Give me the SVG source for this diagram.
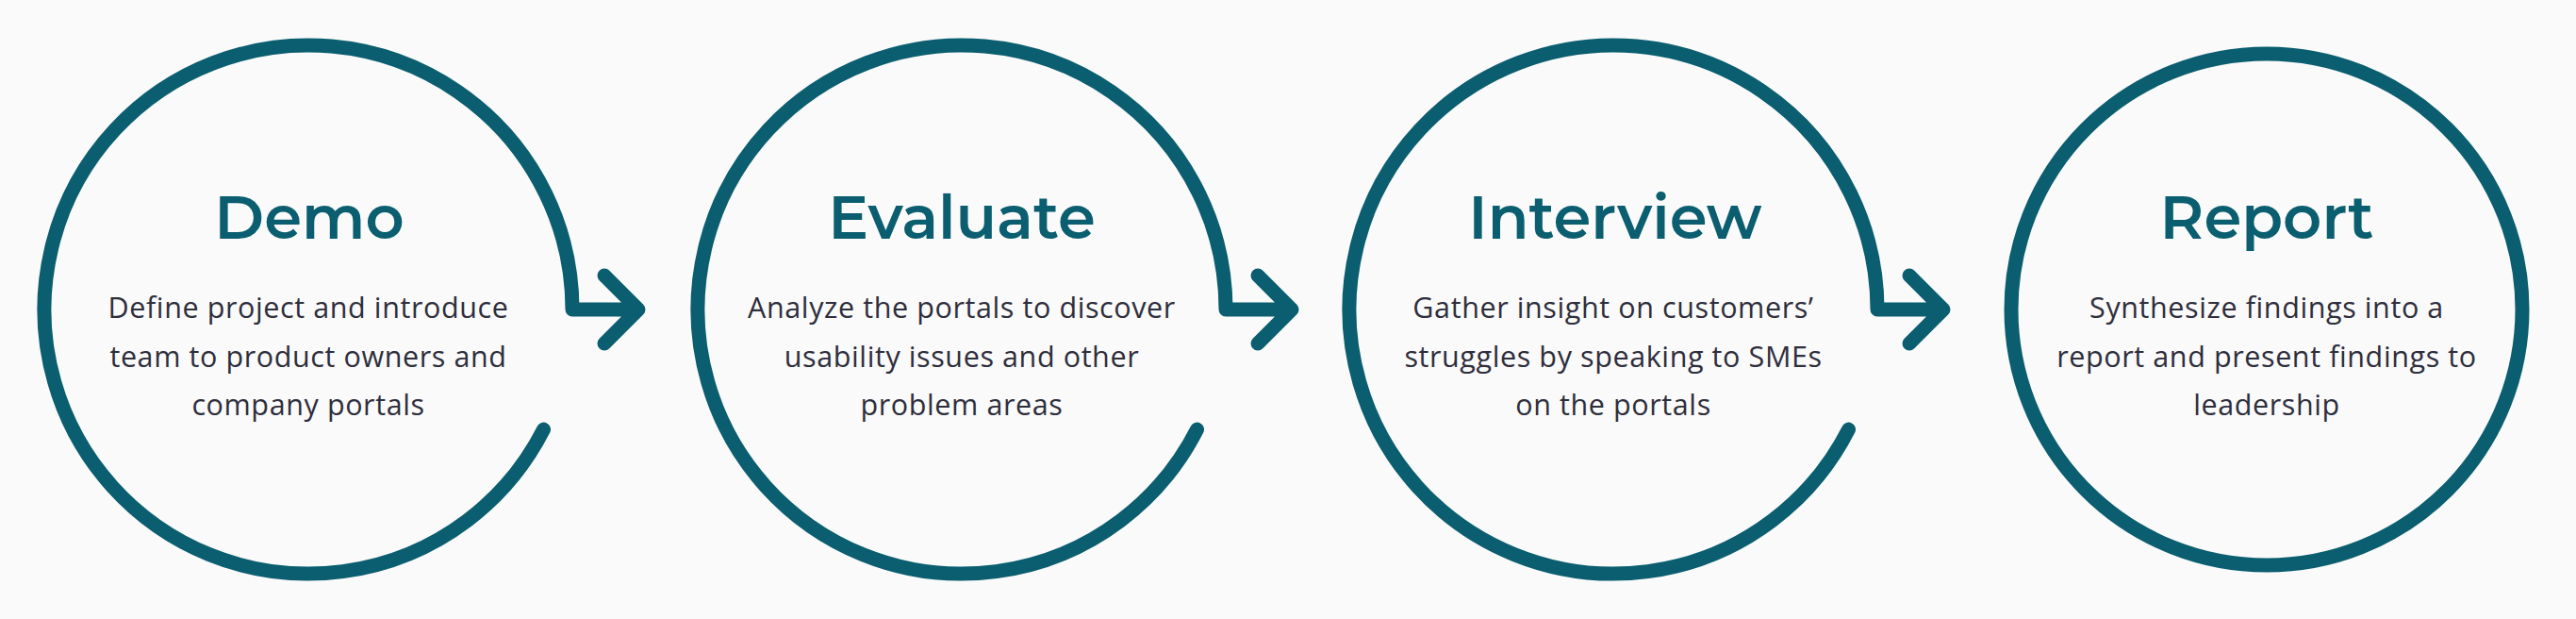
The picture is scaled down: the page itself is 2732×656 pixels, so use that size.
<svg xmlns="http://www.w3.org/2000/svg" width="2732" height="656" viewBox="0 0 2732 656">
<style>
.ring{fill:none;stroke:#0A5E6F;stroke-width:15;stroke-linecap:round;stroke-linejoin:round}
.title{font-family:"Montserrat","Inter","Open Sans",sans-serif;font-weight:600;font-size:64px;fill:#0A5E6F;text-anchor:middle}
.body{font-family:"Open Sans","Noto Sans",sans-serif;font-size:30.5px;letter-spacing:0.6px;fill:#2E2E3C;text-anchor:middle}
</style>
<rect width="2732" height="656" fill="#FAFAFA"/>
<g id="connectors">
<path class="ring" d="M576.5 455.1 A280 280 0 1 1 607 328 L677 328 M641 292 L677 328 L641 364"/>
<path class="ring" d="M1269.5 455.1 A280 280 0 1 1 1300 328 L1370 328 M1334 292 L1370 328 L1334 364"/>
<path class="ring" d="M1960.5 455.1 A280 280 0 1 1 1991 328 L2061 328 M2025 292 L2061 328 L2025 364"/>
</g>
<g id="node-demo">
<text class="title" x="328" y="253">Demo</text>
<text class="body" x="327" y="337">Define project and introduce</text>
<text class="body" x="327" y="389">team to product owners and</text>
<text class="body" x="327" y="440">company portals</text>
</g>
<g id="node-evaluate">
<text class="title" x="1020" y="253">Evaluate</text>
<text class="body" x="1020" y="337">Analyze the portals to discover</text>
<text class="body" x="1020" y="389">usability issues and other</text>
<text class="body" x="1020" y="440">problem areas</text>
</g>
<g id="node-interview">
<text class="title" x="1713" y="253">Interview</text>
<text class="body" x="1711" y="337">Gather insight on customers’</text>
<text class="body" x="1711" y="389">struggles by speaking to SMEs</text>
<text class="body" x="1711" y="440">on the portals</text>
</g>
<g id="node-report">
<circle class="ring" cx="2404" cy="328" r="271"/>
<text class="title" x="2404" y="253">Report</text>
<text class="body" x="2404" y="337">Synthesize findings into a</text>
<text class="body" x="2404" y="389">report and present findings to</text>
<text class="body" x="2404" y="440">leadership</text>
</g>
</svg>
